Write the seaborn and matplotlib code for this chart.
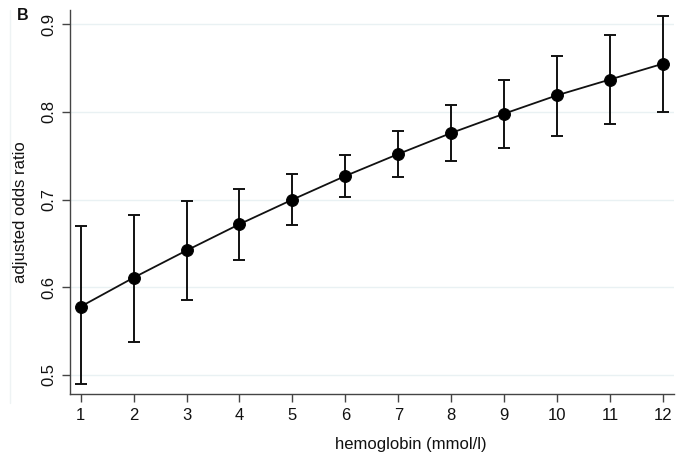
import matplotlib
matplotlib.use("Agg")
import matplotlib.pyplot as plt
import seaborn as sns
import pandas as pd
from matplotlib.lines import Line2D

hemoglobin = [1, 2, 3, 4, 5, 6, 7, 8, 9, 10, 11, 12]
odds_ratio = [0.578, 0.611, 0.642, 0.672, 0.700, 0.727, 0.752, 0.776, 0.798, 0.819, 0.837, 0.855]
ci_low = [0.490, 0.538, 0.586, 0.631, 0.671, 0.703, 0.726, 0.744, 0.759, 0.773, 0.786, 0.800]
ci_high = [0.670, 0.683, 0.698, 0.712, 0.729, 0.751, 0.778, 0.808, 0.837, 0.864, 0.888, 0.909]
y_ticks = [0.5, 0.6, 0.7, 0.8, 0.9]
y_ticklabels = ["0.5", "0.6", "0.7", "0.8", "0.9"]

df = pd.DataFrame({"hb": hemoglobin, "or": odds_ratio, "lo": ci_low, "hi": ci_high})

sns.set_style("white")
plt.rcParams["font.family"] = ["Liberation Sans", "DejaVu Sans"]

fig = plt.figure(figsize=(6.91, 4.59), dpi=100)
ax = fig.add_axes([70 / 691, 1 - 394 / 459, 604 / 691, 384 / 459])

yerr = [df["or"] - df["lo"], df["hi"] - df["or"]]
ax.errorbar(df["hb"], df["or"], yerr=yerr, fmt="none", ecolor="#111111",
            elinewidth=1.4, capsize=4.5, capthick=1.4, zorder=3)
sns.lineplot(data=df, x="hb", y="or", ax=ax, color="#111111", linewidth=1.3,
             marker="o", markersize=8.5, markeredgecolor="black",
             markerfacecolor="black", zorder=4)

ax.set_xlim(0.798, 12.21)
ax.set_ylim(0.4783, 0.9163)
ax.set_xticks(hemoglobin)
ax.set_xticklabels([str(v) for v in hemoglobin], fontsize=12)
ax.set_yticks(y_ticks)
ax.set_yticklabels(y_ticklabels, fontsize=12, rotation=90, va="center")

for v in y_ticks:
    ax.axhline(v, color="#e9f1f3", linewidth=1.0, zorder=0)

for side in ["top", "right"]:
    ax.spines[side].set_visible(False)
for side in ["left", "bottom"]:
    ax.spines[side].set_color("#444444")
    ax.spines[side].set_linewidth(1.0)

ax.tick_params(axis="both", which="major", direction="out", length=6,
               width=1.0, color="#444444", labelcolor="#111111", pad=4, bottom=True, left=True)

ax.set_xlabel("hemoglobin (mmol/l)", fontsize=12, color="#111111", va="center")
ax.set_ylabel("adjusted odds ratio", fontsize=12, color="#111111", va="center")
ax.xaxis.set_label_coords((411 - 70) / 604, (394 - 445) / 384)
ax.yaxis.set_label_coords((21 - 70) / 604, (394 - 212) / 384)

fig.add_artist(Line2D([10 / 691, 10 / 691], [1 - 10 / 459, 1 - 403 / 459],
                      transform=fig.transFigure, color="#eef3f4", linewidth=1.0))
fig.text(17 / 691, 1 - 15 / 459, "B", fontsize=11.5, fontweight="bold",
         ha="left", va="center", color="#111111")

fig.savefig("out.png", dpi=100)
